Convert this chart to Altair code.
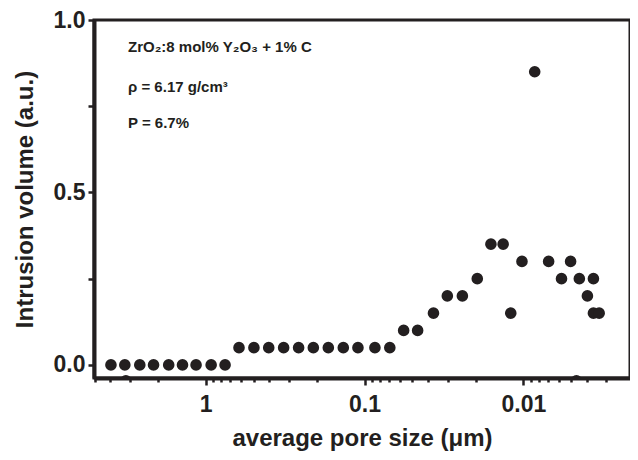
import altair as alt
import pandas as pd

# pore size (um) and intrusion volume (a.u.)
pore_size = [3.95, 3.23, 2.60, 2.13, 1.71, 1.40, 1.15, 0.924, 0.755,
             3.18,
             0.617, 0.497, 0.401, 0.323, 0.260, 0.210, 0.169, 0.136, 0.110, 0.0860, 0.0693,
             0.0567, 0.0463, 0.0368, 0.0301, 0.0242, 0.0195, 0.0160, 0.0134, 0.0120,
             0.0102, 0.00848, 0.00693, 0.00575, 0.00504, 0.00463, 0.00444, 0.00395,
             0.00362, 0.00362, 0.00333]
volume = [0.0, 0.0, 0.0, 0.0, 0.0, 0.0, 0.0, 0.0, 0.0,
          -0.046,
          0.05, 0.05, 0.05, 0.05, 0.05, 0.05, 0.05, 0.05, 0.05, 0.05, 0.05,
          0.10, 0.10, 0.15, 0.20, 0.20, 0.25, 0.35, 0.35, 0.15,
          0.30, 0.85, 0.30, 0.25, 0.30, -0.046, 0.25, 0.20,
          0.25, 0.15, 0.15]

x_ticks = [5, 4, 3, 2, 1, 0.9, 0.8, 0.7, 0.6, 0.5, 0.4, 0.3, 0.2, 0.1,
           0.09, 0.08, 0.07, 0.06, 0.05, 0.04, 0.03, 0.02, 0.01,
           0.009, 0.008, 0.007, 0.006, 0.005, 0.004, 0.003]
y_ticks = [0, 0.25, 0.5, 0.75, 1.0]

notes = ["ZrO\u2082:8 mol% Y\u2082O\u2083 + 1% C", "\u03c1 = 6.17 g/cm\u00b3", "P = 6.7%"]

df = pd.DataFrame({"size": pore_size, "vol": volume})

FONT = "Liberation Sans"
INK = "#231f20"

major_x = "abs(log(datum.value)/LN10 - round(log(datum.value)/LN10)) < 1e-6"

x_enc = alt.X(
    "size:Q",
    scale=alt.Scale(type="log", domain=[0.00213, 5.05], reverse=True, nice=False),
    axis=alt.Axis(
        values=x_ticks,
        labelExpr=f"{major_x} ? format(datum.value, '') : ''",
        tickSize={"condition": {"test": major_x, "value": 7}, "value": 4},
        title="average pore size (\u03bcm)",
        grid=False,
    ),
)
y_enc = alt.Y(
    "vol:Q",
    scale=alt.Scale(domain=[-0.038, 1.0], nice=False, zero=False),
    axis=alt.Axis(
        values=y_ticks,
        labelExpr="datum.value % 0.5 == 0 ? format(datum.value, '.1f') : ''",
        tickSize=6,
        title="Intrusion volume (a.u.)",
        grid=False,
    ),
)

points = alt.Chart(df).mark_circle(size=135, opacity=1, color=INK, clip=True).encode(
    x=x_enc, y=y_enc
)

note_rows = [27, 67, 103]
note_layers = [
    alt.Chart(pd.DataFrame({"t": [t]})).mark_text(
        align="left", baseline="middle", font=FONT, fontWeight="bold", fontSize=15, color=INK
    ).encode(text="t:N", x=alt.value(34), y=alt.value(yy))
    for t, yy in zip(notes, note_rows)
]

chart = (
    alt.layer(points, *note_layers)
    .properties(
        width=536,
        height=358,
        autosize=alt.AutoSizeParams(type="none"),
        padding={"left": 86, "top": 12, "right": 0, "bottom": 74},
    )
    .configure_view(stroke=INK, strokeWidth=3)
    .configure_axis(
        domainColor=INK,
        domainWidth=4,
        tickColor=INK,
        tickWidth=2.5,
        labelFont=FONT,
        labelFontWeight="bold",
        labelFontSize=23,
        labelColor=INK,
        titleFont=FONT,
        titleFontWeight="bold",
        titleFontSize=24,
        titleColor=INK,
        labelPadding=3,
    )
    .configure_axisY(titlePadding=16)
    .configure_axisX(titlePadding=10, labelPadding=8)
)

chart.save("out.html", embed_options={"renderer": "svg", "actions": False})
